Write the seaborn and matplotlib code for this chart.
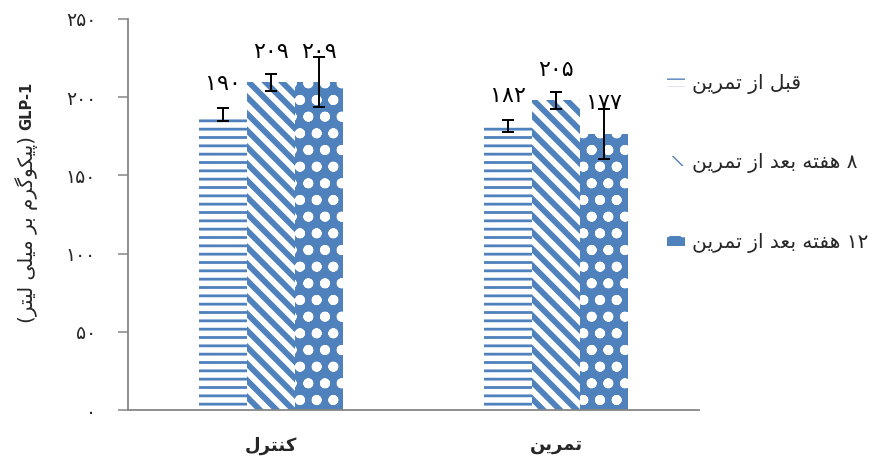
import matplotlib
matplotlib.use("Agg")
import matplotlib.pyplot as plt
import matplotlib.patches as mpatches
import numpy as np
import pandas as pd
import seaborn as sns

# data
groups = ["کنترل", "تمرین"]
periods = ["قبل از تمرین", "۸ هفته بعد از تمرین", "۱۲ هفته بعد از تمرین"]
control_mean = [189, 209.5, 209.5]
exercise_mean = [181.5, 198, 176.5]
control_err = [4, 5.5, 16]
exercise_err = [4, 5.5, 16]
control_labels = ["۱۹۰", "۲۰۹", "۲۰۹"]
exercise_labels = ["۱۸۲", "۲۰۵", "۱۷۷"]
yticks = [0, 50, 100, 150, 200, 250]
ylabel_unit = "(پیکوگرم بر میلی لیتر)"
ylabel_name = "GLP-1"

#####################################################################
# tiny Persian shaper + visual reordering (matplotlib has no bidi)
FORMS = {
    "ا": ("\uFE8D", "\uFE8E", None, None),
    "د": ("\uFEA9", "\uFEAA", None, None),
    "ر": ("\uFEAD", "\uFEAE", None, None),
    "ز": ("\uFEAF", "\uFEB0", None, None),
    "و": ("\uFEED", "\uFEEE", None, None),
    "ب": ("\uFE8F", "\uFE90", "\uFE91", "\uFE92"),
    "ت": ("\uFE95", "\uFE96", "\uFE97", "\uFE98"),
    "ع": ("\uFEC9", "\uFECA", "\uFECB", "\uFECC"),
    "ف": ("\uFED1", "\uFED2", "\uFED3", "\uFED4"),
    "ق": ("\uFED5", "\uFED6", "\uFED7", "\uFED8"),
    "ل": ("\uFEDD", "\uFEDE", "\uFEDF", "\uFEE0"),
    "م": ("\uFEE1", "\uFEE2", "\uFEE3", "\uFEE4"),
    "ن": ("\uFEE5", "\uFEE6", "\uFEE7", "\uFEE8"),
    "ه": ("\uFEE9", "\uFEEA", "\uFEEB", "\uFEEC"),
    "ی": ("\uFBFC", "\uFBFD", "\uFBFE", "\uFBFF"),
    "ک": ("\uFB8E", "\uFB8F", "\uFB90", "\uFB91"),
    "پ": ("\uFB56", "\uFB57", "\uFB58", "\uFB59"),
    "گ": ("\uFB92", "\uFB93", "\uFB94", "\uFB95"),
}
MIRROR = {"(": ")", ")": "("}


def shape(text):
    out = []
    for i, ch in enumerate(text):
        f = FORMS.get(ch)
        if f is None:
            out.append(ch)
            continue
        prev = text[i - 1] if i > 0 else ""
        nxt = text[i + 1] if i < len(text) - 1 else ""
        jp = prev in FORMS and FORMS[prev][2] is not None
        jn = f[2] is not None and nxt in FORMS
        out.append(f[3] if jp and jn else f[1] if jp else f[2] if jn else f[0])
    return "".join(out)


def fa(text):
    s = shape(text)
    runs = []
    for ch in s:
        ltr = ch.isdigit() or (ch.isascii() and ch.isalpha())
        if runs and runs[-1][0] == ltr:
            runs[-1][1].append(ch)
        else:
            runs.append((ltr, [ch]))
    res = ""
    for ltr, chars in reversed(runs):
        if ltr:
            res += "".join(chars)
        else:
            res += "".join(MIRROR.get(c, c) for c in reversed(chars))
    return res


def fa_num(v):
    return "".join("۰۱۲۳۴۵۶۷۸۹"[int(d)] for d in str(v))


#####################################################################
df = pd.DataFrame({
    "group": [fa(groups[0])] * 3 + [fa(groups[1])] * 3,
    "period": [fa(p) for p in periods] * 2,
    "value": control_mean + exercise_mean,
})
errs = [control_err, exercise_err]
labels = [control_labels, exercise_labels]

blue = "#4F81BD"
grey = "#868686"
sns.set_theme(style="white")
plt.rcParams["font.family"] = ["DejaVu Sans"]

fig = plt.figure(figsize=(8.73, 4.57), dpi=100)
ax = fig.add_axes([128 / 873, 47 / 457, 571 / 873, 391 / 457])

sns.barplot(data=df, x="group", y="value", hue="period",
            order=[fa(g) for g in groups], hue_order=[fa(p) for p in periods],
            palette=[blue] * 3, saturation=1, width=0.505, errorbar=None,
            legend=False, ax=ax)

styles = [
    dict(facecolor="white", edgecolor=blue, hatch="--", hlw=2.0),
    dict(facecolor="white", edgecolor=blue, hatch="\\\\", hlw=4.2),
    dict(facecolor=blue, edgecolor="white", hatch="o.", hlw=2.45),
]

bar_containers = list(ax.containers)
for i, cont in enumerate(bar_containers):
    st = styles[i]
    for bar in cont:
        bar.set_facecolor(st["facecolor"])
        bar.set_edgecolor(st["edgecolor"])
        bar.set_hatch(st["hatch"])
        bar.set_linewidth(0)
        if hasattr(bar, "set_hatch_linewidth"):
            bar.set_hatch_linewidth(st["hlw"])

# error bars and value labels
for i, cont in enumerate(bar_containers):
    for j, bar in enumerate(cont):
        xc = bar.get_x() + bar.get_width() / 2
        h = bar.get_height()
        e = errs[j][i]
        ax.errorbar(xc, h, yerr=e, fmt="none", ecolor="black",
                    elinewidth=1.4, capsize=4.5, capthick=1.4, zorder=5)
        ax.annotate(labels[j][i], (xc, h), xytext=(0, 22), textcoords="offset points",
                    ha="center", va="center", fontsize=16, color="black")

ax.set_ylim(0, 250)
ax.set_xlim(-0.5, 1.5)
ax.set_yticks(yticks)
ax.set_yticklabels([fa_num(t) for t in yticks], fontsize=13.5)
ax.set_xlabel("")
ax.set_ylabel("")
for lab in ax.get_xticklabels():
    lab.set_fontweight("bold")
    lab.set_fontsize(13)
ax.tick_params(axis="y", direction="out", length=7, width=1.1, color=grey, pad=16, left=True)
ax.tick_params(axis="x", length=0, pad=19)
sns.despine(ax=ax)
for side in ["left", "bottom"]:
    ax.spines[side].set_color(grey)
    ax.spines[side].set_linewidth(1.3)

# y label: bold GLP-1 on top, Persian unit below
fig.text(27 / 873, 1 - 82 / 457, ylabel_name, rotation=90, ha="center", va="top",
         fontsize=10.5, fontweight="bold")
fig.text(27 / 873, 1 - 323 / 457, fa(ylabel_unit), rotation=90, ha="center",
         va="bottom", fontsize=14.3)

handles = []
for st in styles:
    p = mpatches.Patch(facecolor=st["facecolor"], edgecolor=st["edgecolor"],
                       hatch=st["hatch"], linewidth=0)
    handles.append(p)
ax.legend(handles, [fa(p) for p in periods], loc="upper left",
          bbox_to_anchor=(667 / 873, 1 - 74 / 457), bbox_transform=fig.transFigure,
          frameon=False, fontsize=14.5, handlelength=0.9, handleheight=0.4,
          handletextpad=0.35, labelspacing=2.95, borderpad=0, borderaxespad=0)

fig.savefig("out.png", dpi=100, facecolor="white")
